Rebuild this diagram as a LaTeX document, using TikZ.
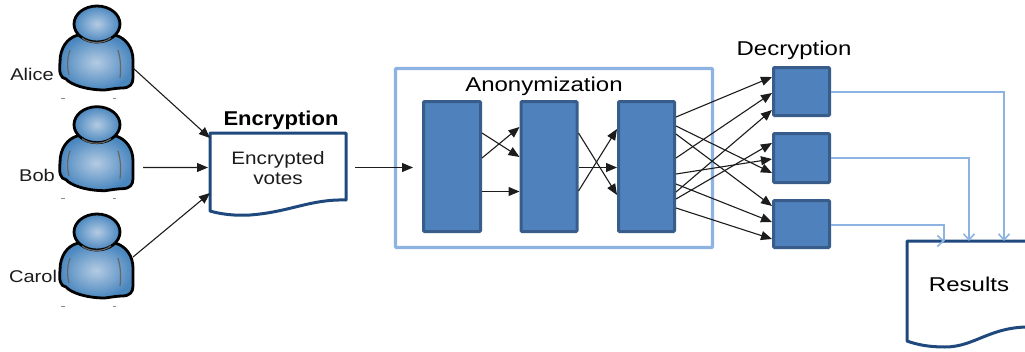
\documentclass[tikz,border=0pt]{standalone}
\usepackage{graphicx}
\usepackage{fontspec}
\setmainfont{Liberation Sans}
\usetikzlibrary{arrows.meta,calc}
\definecolor{boxfill}{HTML}{4F81BD}
\definecolor{boxline}{HTML}{385D8A}
\definecolor{docline}{HTML}{1F497D}
\definecolor{lightline}{HTML}{8DB3E2}
\definecolor{inkline}{HTML}{1C1C1C}
\definecolor{skinin}{HTML}{B4CBE3}
\definecolor{skinout}{HTML}{4A87BF}
\def\upx{0.75pt}
\newcommand{\lbl}[3]{\scalebox{#1}[1]{\fontsize{#2}{#2}\selectfont #3}}
\tikzset{
  block/.style={draw=boxline,fill=boxfill,line width=3*\upx,rounded corners=1*\upx,inner sep=0pt},
  frame/.style={draw=lightline,line width=3.4*\upx,rounded corners=1*\upx,inner sep=0pt},
  ghost/.style={inner sep=0pt,text=inkline},
  caption/.style={inner sep=0pt,text=black},
  doc/.style={draw=docline,line width=3*\upx,fill=white,line join=round},
  link/.style={draw=inkline,line width=1.1*\upx,-{Triangle[length=11*\upx,width=9*\upx]}},
  pale/.style={draw=lightline,line width=1.6*\upx},
  palearrow/.style={pale,-{Straight Barb[length=6*\upx,width=11*\upx]}},
  person/.pic={
    \draw[line width=2.8*\upx,black,line join=round,inner color=skinin,outer color=skinout,shading=radial]
      (78,35) .. controls (67,38) and (60,48) .. (60,62)
      .. controls (59,72) and (60,78) .. (66,79)
      .. controls (70,84) and (85,90) .. (105,90)
      .. controls (112,89) and (118,88) .. (122,88)
      .. controls (130,88) and (133,84) .. (133,78)
      -- (133,60) .. controls (133,48) and (126,38) .. (115,35) -- cycle;
    \draw[line width=1.2*\upx,black!60] (70,50) .. controls (67,58) and (67,68) .. (69,75);
    \draw[line width=1.2*\upx,black!60] (118,50) .. controls (121,60) and (121,70) .. (120,78);
    \draw[line width=2.8*\upx,black,inner color=skinin,outer color=skinout,shading=radial]
      (97,24) ellipse [x radius=23,y radius=18];
    \draw[line width=1.2*\upx,black!60] (82,38) .. controls (90,44) and (103,44) .. (111,38);
    \draw[line width=0.8*\upx,black!45] (61,98) -- (65,98) (113,98) -- (116,98);
  }
}
\begin{document}
\begin{tikzpicture}[x=0.75pt,y=-0.75pt]
\useasboundingbox (0,0) rectangle (1025,351);
\clip (0,0) rectangle (1025,351);

% voters
\pic at (0,0) {person};
\pic at (0,100.7) {person};
\pic at (0,208) {person};
\node[ghost,minimum width=73*\upx,minimum height=84*\upx,outer sep=0pt] (alice) at (96.5,48) {};
\node[ghost,minimum width=73*\upx,minimum height=84*\upx,outer sep=0pt] (bob) at (96.5,148.7) {};
\node[ghost,minimum width=73*\upx,minimum height=84*\upx,outer sep=0pt] (carol) at (96.5,256) {};
\node[ghost] (alicelabel) at (32,74) {\lbl{1.18}{12.75}{Alice}};
\node[ghost] (boblabel) at (37,175) {\lbl{1.18}{12.75}{Bob}};
\node[ghost] (carollabel) at (33,276) {\lbl{1.18}{12.75}{Carol}};

% encryption document
\draw[doc] (210,133) -- (346,133) -- (346,200)
  .. controls (310,199) and (290,212) .. (250,215)
  .. controls (235,216) and (220,214) .. (210,211) -- cycle;
\node[ghost,minimum width=136*\upx,minimum height=67*\upx,outer sep=0pt] (enc) at (278,166.5) {};
\node[ghost,align=center,font=\fontsize{13.5}{15.6}\selectfont] (enctext) at (278,168) {\scalebox{1.15}[1]{Encrypted}\\\scalebox{1.15}[1]{votes}};
\node[caption] (enctitle) at (281,120) {\lbl{1.1}{15}{\bfseries Encryption}};

% anonymization
\node[frame,minimum width=317*\upx,minimum height=179*\upx] (anon) at (554,158) {};
\node[caption] (anontitle) at (544,86) {\lbl{1.2}{15}{Anonymization}};
\node[block,minimum width=57*\upx,minimum height=130*\upx] (b1) at (452,166.5) {};
\node[block,minimum width=56*\upx,minimum height=130*\upx] (b2) at (549,166.5) {};
\node[block,minimum width=56*\upx,minimum height=130*\upx] (b3) at (646.5,166.5) {};

% decryption
\node[caption] (dectitle) at (794,50) {\lbl{1.2}{15}{Decryption}};
\node[block,minimum width=56*\upx,minimum height=48*\upx] (d1) at (801.5,91.5) {};
\node[block,minimum width=56*\upx,minimum height=49*\upx] (d2) at (801.5,158) {};
\node[block,minimum width=56*\upx,minimum height=47*\upx] (d3) at (801.5,224) {};

% results
\draw[doc] (907,241) -- (1032,241) -- (1032,327)
  .. controls (990,326) and (975,347) .. (945,347)
  .. controls (930,347) and (918,345) .. (907,341) -- cycle;
\node[caption,minimum width=124*\upx,minimum height=86*\upx,outer sep=0pt] (res) at (969,284) {\lbl{1.2}{15}{Results}};

% voters to encryption
\draw[link] ($(alice.east)+(0,20)$) -- ($(enc.west)+(0,-28.5)$);
\draw[link] ($(bob.east)+(10,18.8)$) -- ($(enc.west)+(-2,1)$);
\draw[link] ($(carol.east)+(0,1)$) -- ($(enc.west)+(0,26.5)$);
\draw[link] ($(enc.east)+(9,1)$) -- ($(b1.west)+(-9,1)$);

% mix stages
\draw[link] ($(b1.east)+(0,-33.5)$) -- ($(b2.west)+(0,-9.5)$);
\draw[link] ($(b1.east)+(0,-8.5)$) -- ($(b2.west)+(0,-39.5)$);
\draw[link] ($(b1.east)+(0,25)$) -- ($(b2.west)+(0,25)$);
\draw[link] ($(b2.east)+(0,-33.5)$) -- ($(b3.west)+(0,28.5)$);
\draw[link] ($(b2.east)+(0,24.5)$) -- ($(b3.west)+(0,-37.5)$);
\draw[link] ($(b2.east)+(0,1)$) -- ($(b3.west)+(0,1)$);

% mix to decryption
\draw[link] ($(b3.east)+(0,-49.5)$) -- ($(d1.west)+(0,-14.5)$);
\draw[link] ($(b3.east)+(0,-8.5)$) -- ($(d1.west)+(0,1.5)$);
\draw[link] ($(b3.east)+(0,25.5)$) -- ($(d1.west)+(0,18.5)$);
\draw[link] ($(b3.east)+(0,32.5)$) -- ($(d2.west)+(0,-15)$);
\draw[link] ($(b3.east)+(0,7.5)$) -- ($(d2.west)+(0,1)$);
\draw[link] ($(b3.east)+(0,-40.5)$) -- ($(d2.west)+(0,15)$);
\draw[link] ($(b3.east)+(0,-32.5)$) -- ($(d3.west)+(0,-18)$);
\draw[link] ($(b3.east)+(0,17.5)$) -- ($(d3.west)+(0,-2)$);
\draw[link] ($(b3.east)+(0,41.5)$) -- ($(d3.west)+(0,15)$);

% decryption to results
\draw[palearrow] ($(d1.east)+(0,0.5)$) -| ($(res.north)+(35,0)$);
\draw[palearrow] (d2.east) -| (res.north);
\draw[pale] ($(d3.east)+(0,1)$) -| ($(res.north)+(-25,0)$);
\draw[palearrow] ($(res.north)+(-26,0)$) -- ($(res.north)+(-24.5,0)$);
\end{tikzpicture}
\end{document}
